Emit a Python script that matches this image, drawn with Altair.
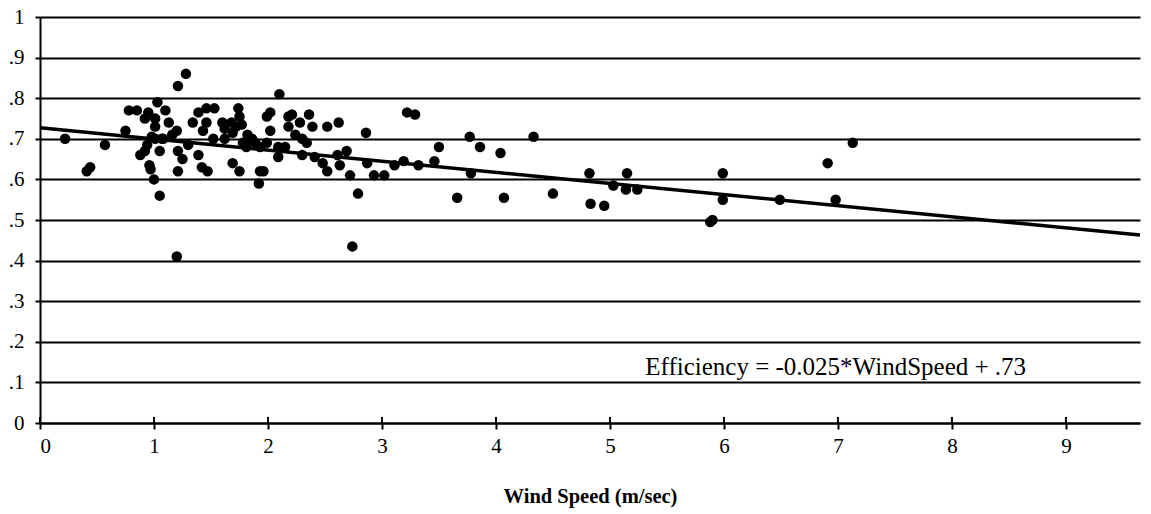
import altair as alt
import pandas as pd

# Observations: wind speed (m/sec) and efficiency
wind_speed = [
    0.22, 0.41, 0.44, 0.57, 0.75, 0.78, 0.85, 0.92, 0.95, 1.01,
    1.03, 1.01, 0.98, 1.01, 1.07, 0.94, 0.92, 0.88, 0.96, 0.97,
    1.00, 1.05, 1.05, 1.10, 1.13, 1.08, 1.20, 1.21, 1.25, 1.21,
    1.30, 1.28, 1.21, 1.20, 1.39, 1.34, 1.46, 1.53, 1.46, 1.43,
    1.39, 1.42, 1.47, 1.60, 1.62, 1.68, 1.74, 1.75, 1.77, 1.69,
    1.62, 1.69, 1.75, 1.82, 1.78, 1.81, 1.89, 1.86, 1.93, 1.93,
    1.92, 1.96, 1.99, 2.02, 2.02, 1.99, 2.09, 2.09, 2.10, 2.18,
    2.18, 2.21, 2.28, 2.36, 2.39, 2.52, 2.62, 2.30, 2.30, 2.41,
    2.48, 2.52, 2.61, 2.63, 2.69, 2.72, 2.79, 2.74, 2.86, 2.87,
    2.93, 3.02, 3.11, 3.19, 3.22, 3.29, 3.32, 3.46, 3.50, 3.66,
    3.77, 3.86, 3.78, 4.04, 4.07, 4.33, 4.50, 4.82, 4.83, 4.95,
    5.03, 5.15, 5.14, 5.24, 5.88, 5.90, 5.99, 5.99, 6.49, 6.91,
    6.98, 7.13, 1.16, 1.52, 2.24, 2.15, 2.34, 1.72, 1.84,
]
efficiency = [
    0.700, 0.620, 0.630, 0.685, 0.720, 0.770, 0.770, 0.750, 0.765, 0.750,
    0.790, 0.730, 0.705, 0.700, 0.700, 0.685, 0.670, 0.660, 0.635, 0.625,
    0.600, 0.670, 0.560, 0.770, 0.740, 0.700, 0.720, 0.670, 0.650, 0.620,
    0.685, 0.860, 0.830, 0.410, 0.765, 0.740, 0.775, 0.775, 0.740, 0.720,
    0.660, 0.630, 0.620, 0.740, 0.725, 0.740, 0.775, 0.755, 0.735, 0.715,
    0.700, 0.640, 0.620, 0.710, 0.690, 0.680, 0.690, 0.700, 0.680, 0.620,
    0.590, 0.620, 0.755, 0.765, 0.720, 0.690, 0.680, 0.655, 0.810, 0.755,
    0.730, 0.760, 0.740, 0.760, 0.730, 0.730, 0.740, 0.700, 0.660, 0.655,
    0.640, 0.620, 0.660, 0.635, 0.670, 0.610, 0.565, 0.435, 0.715, 0.640,
    0.610, 0.610, 0.635, 0.645, 0.765, 0.760, 0.635, 0.645, 0.680, 0.555,
    0.705, 0.680, 0.615, 0.665, 0.555, 0.705, 0.565, 0.615, 0.540, 0.535,
    0.585, 0.615, 0.575, 0.575, 0.495, 0.500, 0.615, 0.550, 0.550, 0.640,
    0.550, 0.690, 0.710, 0.700, 0.710, 0.680, 0.690, 0.730, 0.700,
]

# Fitted line as drawn
fit_x = [0.0, 9.65]
fit_y = [0.727, 0.463]

x_ticks = [0, 1, 2, 3, 4, 5, 6, 7, 8, 9]
y_ticks = [0.0, 0.1, 0.2, 0.3, 0.4, 0.5, 0.6, 0.7, 0.8, 0.9, 1.0]
tick_up = [0.015] * len(x_ticks)

note_text = ["Efficiency = -0.025*WindSpeed + .73"]
note_x = [5.31]
note_y = [0.138]

SERIF = "Liberation Serif"

pts = pd.DataFrame({"ws": wind_speed, "eff": efficiency})
fit = pd.DataFrame({"ws": fit_x, "eff": fit_y})
ticks = pd.DataFrame({"ws": x_ticks, "eff": [0.0] * len(x_ticks), "y1": tick_up})
note = pd.DataFrame({"ws": note_x, "eff": note_y, "t": note_text})

xscale = alt.Scale(domain=[0, 9.65], nice=False, zero=False)
yscale = alt.Scale(domain=[0, 1], nice=False)

xaxis = alt.Axis(
    values=x_ticks, format="d", grid=False, title="Wind Speed (m/sec)",
)
yaxis = alt.Axis(
    values=y_ticks, grid=True, title=None,
    labelExpr="datum.value == 0 ? '0' : (datum.value == 1 ? '1' : replace(format(datum.value, '.1f'), '0.', '.'))",
)

X = alt.X("ws:Q", scale=xscale, axis=xaxis)
Y = alt.Y("eff:Q", scale=yscale, axis=yaxis)

points = alt.Chart(pts).mark_circle(size=110, color="black", opacity=1).encode(x=X, y=Y)

line = alt.Chart(fit).mark_line(color="black", strokeWidth=3.5).encode(x=X, y=Y)

up_ticks = alt.Chart(ticks).mark_rule(color="black", strokeWidth=2).encode(
    x=X, y=Y, y2="y1:Q",
)

label = alt.Chart(note).mark_text(
    align="left", baseline="middle", font=SERIF, fontSize=25, color="black"
).encode(x=X, y=Y, text="t:N")

chart = (
    alt.layer(points, line, up_ticks, label)
    .properties(
        width=1100, height=406,
        autosize=alt.AutoSizeParams(type="none"),
        padding={"left": 40, "top": 17, "right": 11, "bottom": 91},
        background="white",
    )
    .configure_view(stroke=None)
    .configure_axis(
        domainColor="black", domainWidth=2, tickColor="black", tickWidth=2,
        labelFont=SERIF, labelFontSize=21, labelColor="black",
        titleFont=SERIF, titleColor="black",
    )
    .configure_axisX(
        tickSize=6, labelPadding=6, titleFontSize=20.5, titleFontWeight="bold",
        titlePadding=30,
    )
    .configure_axisY(
        tickSize=5, labelPadding=11, gridColor="black", gridWidth=2, gridOpacity=1,
    )
)

chart.save("out.html", embed_options={"renderer": "svg", "actions": False})
